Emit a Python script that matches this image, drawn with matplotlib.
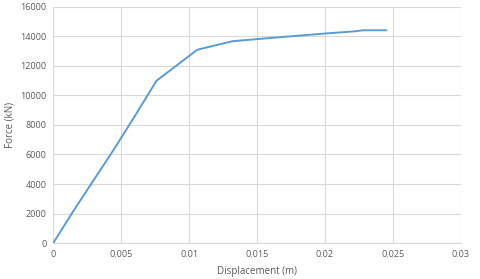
import matplotlib
matplotlib.use("Agg")
import matplotlib.pyplot as plt
import numpy as np

# displacement (m) and force (kN)
disp = [0, 0.0015, 0.003, 0.0045, 0.006, 0.0076, 0.0106, 0.0132, 0.016, 0.02, 0.0222, 0.0228, 0.0245]
force = [0, 2200, 4300, 6400, 8600, 11000, 13100, 13680, 13900, 14200, 14350, 14420, 14420]

xticks = [0, 0.005, 0.01, 0.015, 0.02, 0.025, 0.03]
xlabels = ["0", "0.005", "0.01", "0.015", "0.02", "0.025", "0.03"]
yticks = np.arange(0, 16001, 2000)

plt.rcParams['font.family'] = ['Open Sans', 'DejaVu Sans']

fig = plt.figure(figsize=(4.8, 2.79), dpi=100)
ax = fig.add_axes([0.111, 0.129, 0.849, 0.846])
ax.plot(disp, force, color="#5b9bd5", lw=1.4)

ax.set_xlim(0, 0.03)
ax.set_ylim(0, 16000)
ax.set_xticks(xticks)
ax.set_xticklabels(xlabels)
ax.set_yticks(yticks)
ax.grid(True, color="#d9d9d9", lw=0.8)
ax.set_axisbelow(True)
for s in ["top", "right", "left"]:
    ax.spines[s].set_visible(False)
ax.spines["bottom"].set_color("#d9d9d9")
ax.tick_params(length=0, labelsize=6.5, labelcolor="#595959", pad=5)
ax.set_xlabel("Displacement (m)", fontsize=7, color="#595959", labelpad=5)
ax.set_ylabel("Force (kN)", fontsize=7, color="#595959", labelpad=3)

fig.savefig("out.png", dpi=100)
